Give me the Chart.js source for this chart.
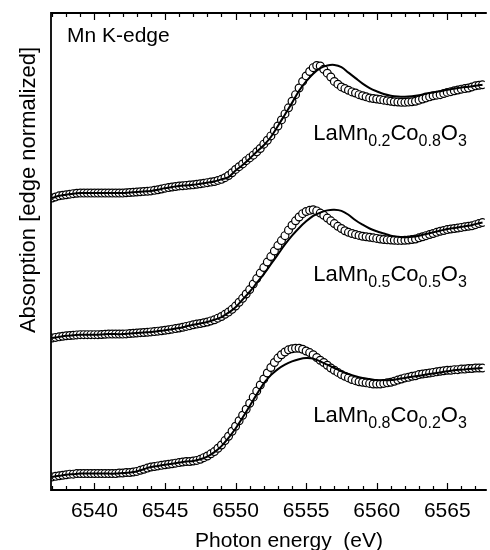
<!DOCTYPE html>
<html>
<head>
<meta charset="utf-8">
<script src="https://cdn.jsdelivr.net/npm/chart.js@4.4.1/dist/chart.umd.min.js"></script>
<style>
  html, body { margin: 0; padding: 0; background: #fff; overflow: hidden; }
</style>
</head>
<body>
<canvas id="xanes" width="490" height="550"></canvas>
<script>
// photon energy of the measured points (eV), 0.25 eV step
const energyCircle = [
  6537, 6537.25, 6537.5, 6537.75, 6538, 6538.25, 6538.5, 6538.75,
  6539, 6539.25, 6539.5, 6539.75, 6540, 6540.25, 6540.5, 6540.75,
  6541, 6541.25, 6541.5, 6541.75, 6542, 6542.25, 6542.5, 6542.75,
  6543, 6543.25, 6543.5, 6543.75, 6544, 6544.25, 6544.5, 6544.75,
  6545, 6545.25, 6545.5, 6545.75, 6546, 6546.25, 6546.5, 6546.75,
  6547, 6547.25, 6547.5, 6547.75, 6548, 6548.25, 6548.5, 6548.75,
  6549, 6549.25, 6549.5, 6549.75, 6550, 6550.25, 6550.5, 6550.75,
  6551, 6551.25, 6551.5, 6551.75, 6552, 6552.25, 6552.5, 6552.75,
  6553, 6553.25, 6553.5, 6553.75, 6554, 6554.25, 6554.5, 6554.75,
  6555, 6555.25, 6555.5, 6555.75, 6556, 6556.25, 6556.5, 6556.75,
  6557, 6557.25, 6557.5, 6557.75, 6558, 6558.25, 6558.5, 6558.75,
  6559, 6559.25, 6559.5, 6559.75, 6560, 6560.25, 6560.5, 6560.75,
  6561, 6561.25, 6561.5, 6561.75, 6562, 6562.25, 6562.5, 6562.75,
  6563, 6563.25, 6563.5, 6563.75, 6564, 6564.25, 6564.5, 6564.75,
  6565, 6565.25, 6565.5, 6565.75, 6566, 6566.25, 6566.5, 6566.75,
  6567, 6567.25, 6567.5
];

// photon energy of the reference curves (eV), 0.5 eV step
const energyLine = [
  6537, 6537.5, 6538, 6538.5, 6539, 6539.5, 6540, 6540.5,
  6541, 6541.5, 6542, 6542.5, 6543, 6543.5, 6544, 6544.5,
  6545, 6545.5, 6546, 6546.5, 6547, 6547.5, 6548, 6548.5,
  6549, 6549.5, 6550, 6550.5, 6551, 6551.5, 6552, 6552.5,
  6553, 6553.5, 6554, 6554.5, 6555, 6555.5, 6556, 6556.5,
  6557, 6557.5, 6558, 6558.5, 6559, 6559.5, 6560, 6560.5,
  6561, 6561.5, 6562, 6562.5, 6563, 6563.5, 6564, 6564.5,
  6565, 6565.5, 6566, 6566.5, 6567, 6567.5
];

// LaMn0.8Co0.2O3 (bottom)
const mn08Circle = [
  0.01, 0.015, 0.02, 0.025, 0.03, 0.035, 0.035, 0.04,
  0.04, 0.04, 0.04, 0.04, 0.04, 0.04, 0.04, 0.04,
  0.04, 0.04, 0.04, 0.045, 0.045, 0.05, 0.05, 0.055,
  0.06, 0.07, 0.08, 0.09, 0.10, 0.105, 0.11, 0.115,
  0.12, 0.125, 0.13, 0.135, 0.14, 0.145, 0.15, 0.15,
  0.155, 0.16, 0.17, 0.185, 0.20, 0.22, 0.24, 0.27,
  0.30, 0.34, 0.38, 0.425, 0.47, 0.52, 0.57, 0.625,
  0.68, 0.735, 0.79, 0.845, 0.90, 0.955, 1.005, 1.05,
  1.09, 1.12, 1.145, 1.165, 1.175, 1.18, 1.18, 1.17,
  1.155, 1.14, 1.12, 1.095, 1.07, 1.05, 1.025, 1.0,
  0.98, 0.96, 0.94, 0.925, 0.91, 0.895, 0.885, 0.875,
  0.87, 0.865, 0.86, 0.855, 0.855, 0.855, 0.86, 0.865,
  0.87, 0.88, 0.89, 0.90, 0.91, 0.915, 0.925, 0.93,
  0.94, 0.945, 0.95, 0.955, 0.96, 0.965, 0.97, 0.975,
  0.98, 0.98, 0.985, 0.985, 0.99, 0.99, 0.995, 0.995,
  1.0, 1.0, 1.0
];
const mn08Line = [
  0.01, 0.02, 0.03, 0.035, 0.04, 0.04, 0.04, 0.04,
  0.04, 0.04, 0.045, 0.05, 0.06, 0.08, 0.10, 0.11,
  0.12, 0.13, 0.14, 0.15, 0.155, 0.17, 0.195, 0.235,
  0.29, 0.365, 0.45, 0.55, 0.655, 0.76, 0.86, 0.935,
  0.99, 1.03, 1.06, 1.08, 1.09, 1.085, 1.06, 1.03,
  1.0, 0.97, 0.945, 0.925, 0.91, 0.9, 0.89, 0.89,
  0.89, 0.9, 0.91, 0.92, 0.93, 0.94, 0.95, 0.96,
  0.97, 0.98, 0.985, 0.99, 0.995, 1.0
];

// LaMn0.5Co0.5O3 (middle)
const mn05Circle = [
  0.0, 0.005, 0.01, 0.015, 0.02, 0.022, 0.025, 0.028,
  0.03, 0.03, 0.03, 0.03, 0.03, 0.03, 0.032, 0.034,
  0.035, 0.035, 0.035, 0.035, 0.035, 0.037, 0.04, 0.043,
  0.045, 0.048, 0.05, 0.052, 0.055, 0.058, 0.062, 0.066,
  0.07, 0.075, 0.08, 0.085, 0.09, 0.097, 0.105, 0.112,
  0.12, 0.126, 0.132, 0.138, 0.145, 0.155, 0.165, 0.18,
  0.195, 0.215, 0.235, 0.26, 0.29, 0.325, 0.36, 0.40,
  0.44, 0.49, 0.54, 0.59, 0.64, 0.69, 0.74, 0.79,
  0.84, 0.885, 0.93, 0.98, 1.025, 1.065, 1.10, 1.13,
  1.15, 1.16, 1.165, 1.155, 1.135, 1.115, 1.09, 1.065,
  1.04, 1.015, 0.995, 0.975, 0.96, 0.95, 0.94, 0.932,
  0.925, 0.92, 0.915, 0.91, 0.905, 0.9, 0.895, 0.892,
  0.89, 0.888, 0.887, 0.887, 0.888, 0.89, 0.895, 0.9,
  0.91, 0.92, 0.93, 0.94, 0.95, 0.96, 0.97, 0.977,
  0.985, 0.99, 0.995, 1.0, 1.005, 1.01, 1.015, 1.02,
  1.03, 1.04, 1.05
];
const mn05Line = [
  0.0, 0.01, 0.02, 0.025, 0.03, 0.03, 0.03, 0.032,
  0.035, 0.035, 0.035, 0.04, 0.045, 0.05, 0.055, 0.062,
  0.07, 0.08, 0.09, 0.105, 0.12, 0.132, 0.145, 0.165,
  0.19, 0.23, 0.28, 0.35, 0.42, 0.50, 0.58, 0.67,
  0.76, 0.85, 0.93, 1.0, 1.06, 1.11, 1.14, 1.16,
  1.165, 1.155, 1.12, 1.07, 1.03, 0.995, 0.97, 0.95,
  0.93, 0.92, 0.915, 0.92, 0.93, 0.945, 0.96, 0.975,
  0.99, 1.0, 1.01, 1.02, 1.035, 1.05
];

// LaMn0.2Co0.8O3 (top)
const mn02Circle = [
  0.0, 0.01, 0.02, 0.025, 0.03, 0.035, 0.04, 0.043,
  0.045, 0.045, 0.045, 0.045, 0.045, 0.045, 0.045, 0.045,
  0.045, 0.045, 0.045, 0.045, 0.045, 0.048, 0.05, 0.052,
  0.055, 0.057, 0.06, 0.062, 0.065, 0.07, 0.075, 0.082,
  0.09, 0.095, 0.1, 0.105, 0.11, 0.112, 0.115, 0.118,
  0.12, 0.125, 0.13, 0.135, 0.14, 0.145, 0.15, 0.16,
  0.17, 0.185, 0.205, 0.23, 0.26, 0.285, 0.31, 0.34,
  0.365, 0.39, 0.42, 0.45, 0.49, 0.525, 0.565, 0.61,
  0.655, 0.71, 0.765, 0.82, 0.88, 0.94, 1.0, 1.06,
  1.11, 1.15, 1.185, 1.205, 1.20, 1.17, 1.135, 1.10,
  1.06, 1.035, 1.01, 0.995, 0.98, 0.965, 0.955, 0.94,
  0.93, 0.92, 0.91, 0.905, 0.9, 0.895, 0.89, 0.885,
  0.88, 0.875, 0.873, 0.87, 0.87, 0.872, 0.875, 0.88,
  0.89, 0.9, 0.91, 0.92, 0.93, 0.935, 0.94, 0.95,
  0.96, 0.967, 0.975, 0.982, 0.99, 0.995, 1.0, 1.01,
  1.02, 1.025, 1.03
];
const mn02Line = [
  0.0, 0.02, 0.03, 0.04, 0.045, 0.045, 0.045, 0.045,
  0.045, 0.045, 0.045, 0.05, 0.055, 0.06, 0.065, 0.075,
  0.09, 0.1, 0.11, 0.115, 0.12, 0.13, 0.14, 0.15,
  0.17, 0.19, 0.25, 0.30, 0.36, 0.42, 0.48, 0.555,
  0.655, 0.76, 0.865, 0.975, 1.06, 1.13, 1.18, 1.205,
  1.21, 1.19, 1.14, 1.09, 1.04, 1.0, 0.97, 0.945,
  0.93, 0.922, 0.92, 0.925, 0.935, 0.95, 0.96, 0.97,
  0.985, 0.995, 1.005, 1.012, 1.02, 1.03
];

// vertical offset of each spectrum
const spectrumOffset = [0, 1.273, 2.545];

// sample names as [text, subscript] parts
const sampleNames = [
  [['LaMn', false], ['0.8', true], ['Co', false], ['0.2', true], ['O', false], ['3', true]],
  [['LaMn', false], ['0.5', true], ['Co', false], ['0.5', true], ['O', false], ['3', true]],
  [['LaMn', false], ['0.2', true], ['Co', false], ['0.8', true], ['O', false], ['3', true]]
];

// x axis tick labels
const energyTicks = [6540, 6545, 6550, 6555, 6560, 6565];

const FONT = '"Liberation Sans", Arial, Helvetica, sans-serif';

/*
  energy + value -> point list
*/
function toPoints(energies, values, offset) {
  return energies.map((e, i) => ({ x: e, y: values[i] + offset }));
}

function circleSet(values, offset) {
  return {
    data: toPoints(energyCircle, values, offset),
    showLine: false,
    pointStyle: 'circle',
    pointRadius: 3.9,
    pointBorderWidth: 1.2,
    pointBackgroundColor: '#ffffff',
    pointBorderColor: '#000000',
    order: 2
  };
}

function lineSet(values, offset) {
  return {
    data: toPoints(energyLine, values, offset),
    showLine: true,
    borderColor: '#000000',
    borderWidth: 2,
    pointRadius: 0,
    tension: 0.35,
    order: 1
  };
}

/*
  subscript formula text
*/
function drawFormula(ctx, parts, x, y) {
  let cx = x;
  parts.forEach(p => {
    if (p[1]) {
      ctx.font = '16px ' + FONT;
      ctx.fillText(p[0], cx, y + 6);
    } else {
      ctx.font = '22px ' + FONT;
      ctx.fillText(p[0], cx, y);
    }
    cx += ctx.measureText(p[0]).width;
  });
}

// frame, inner ticks and text
const decoPlugin = {
  id: 'deco',
  afterDraw(chart) {
    const ctx = chart.ctx;
    const area = chart.chartArea;
    const xs = chart.scales.x;
    const ys = chart.scales.y;
    ctx.save();
    ctx.strokeStyle = '#000';
    ctx.lineWidth = 1.8;
    ctx.beginPath();
    ctx.moveTo(area.right + 2, area.top);
    ctx.lineTo(area.left, area.top);
    ctx.lineTo(area.left, area.bottom);
    ctx.lineTo(area.right + 2, area.bottom);
    ctx.stroke();

    // ticks every 1 eV, long ones every 5 eV
    ctx.lineWidth = 1.2;
    ctx.beginPath();
    for (let e = 6537; e <= 6567; e++) {
      const px = Math.round(xs.getPixelForValue(e)) + 0.5;
      const len = (e % 5 === 0) ? 7 : 4;
      ctx.moveTo(px, area.bottom);
      ctx.lineTo(px, area.bottom - len);
      ctx.moveTo(px, area.top);
      ctx.lineTo(px, area.top + len);
    }
    ctx.stroke();

    ctx.fillStyle = '#000';
    ctx.textBaseline = 'alphabetic';
    ctx.textAlign = 'left';

    // edge name
    ctx.font = '21px ' + FONT;
    ctx.fillText('Mn K-edge', 67, 42);

    // sample names
    const labelBase = [0.51, 0.52, 0.525];
    sampleNames.forEach((parts, i) => {
      const px = xs.getPixelForValue(6555.5);
      const py = ys.getPixelForValue(spectrumOffset[i] + labelBase[i]);
      drawFormula(ctx, parts, px, py);
    });

    // axis titles
    ctx.font = '21px ' + FONT;
    ctx.textAlign = 'center';
    ctx.fillText('Photon energy  (eV)', 289, 547);
    ctx.font = '22px ' + FONT;
    ctx.translate(35, 190);
    ctx.rotate(-Math.PI / 2);
    ctx.fillText('Absorption [edge normalized]', 0, 0);
    ctx.restore();
  }
};

const datasets = [
  lineSet(mn08Line, spectrumOffset[0]),
  circleSet(mn08Circle, spectrumOffset[0]),
  lineSet(mn05Line, spectrumOffset[1]),
  circleSet(mn05Circle, spectrumOffset[1]),
  lineSet(mn02Line, spectrumOffset[2]),
  circleSet(mn02Circle, spectrumOffset[2])
];

new Chart(document.getElementById('xanes'), {
  type: 'scatter',
  data: { datasets: datasets },
  options: {
    responsive: false,
    animation: false,
    devicePixelRatio: 1,
    layout: { padding: { left: 51, top: 13, right: 0, bottom: 0 } },
    plugins: {
      legend: { display: false },
      tooltip: { enabled: false }
    },
    scales: {
      x: {
        type: 'linear',
        min: 6536.92,
        max: 6567.66,
        border: { display: false },
        grid: { display: false, drawTicks: false },
        ticks: {
          includeBounds: false,
          padding: 9,
          color: '#000',
          font: { family: FONT, size: 21 },
          maxRotation: 0,
          callback: value => String(value)
        },
        afterBuildTicks: scale => {
          scale.ticks = energyTicks.map(v => ({ value: v }));
        },
        afterFit: scale => {
          scale.height = 60;
        }
      },
      y: {
        type: 'linear',
        display: false,
        min: -0.109,
        max: 4.227
      }
    }
  },
  plugins: [decoPlugin]
});
</script>
</body>
</html>
